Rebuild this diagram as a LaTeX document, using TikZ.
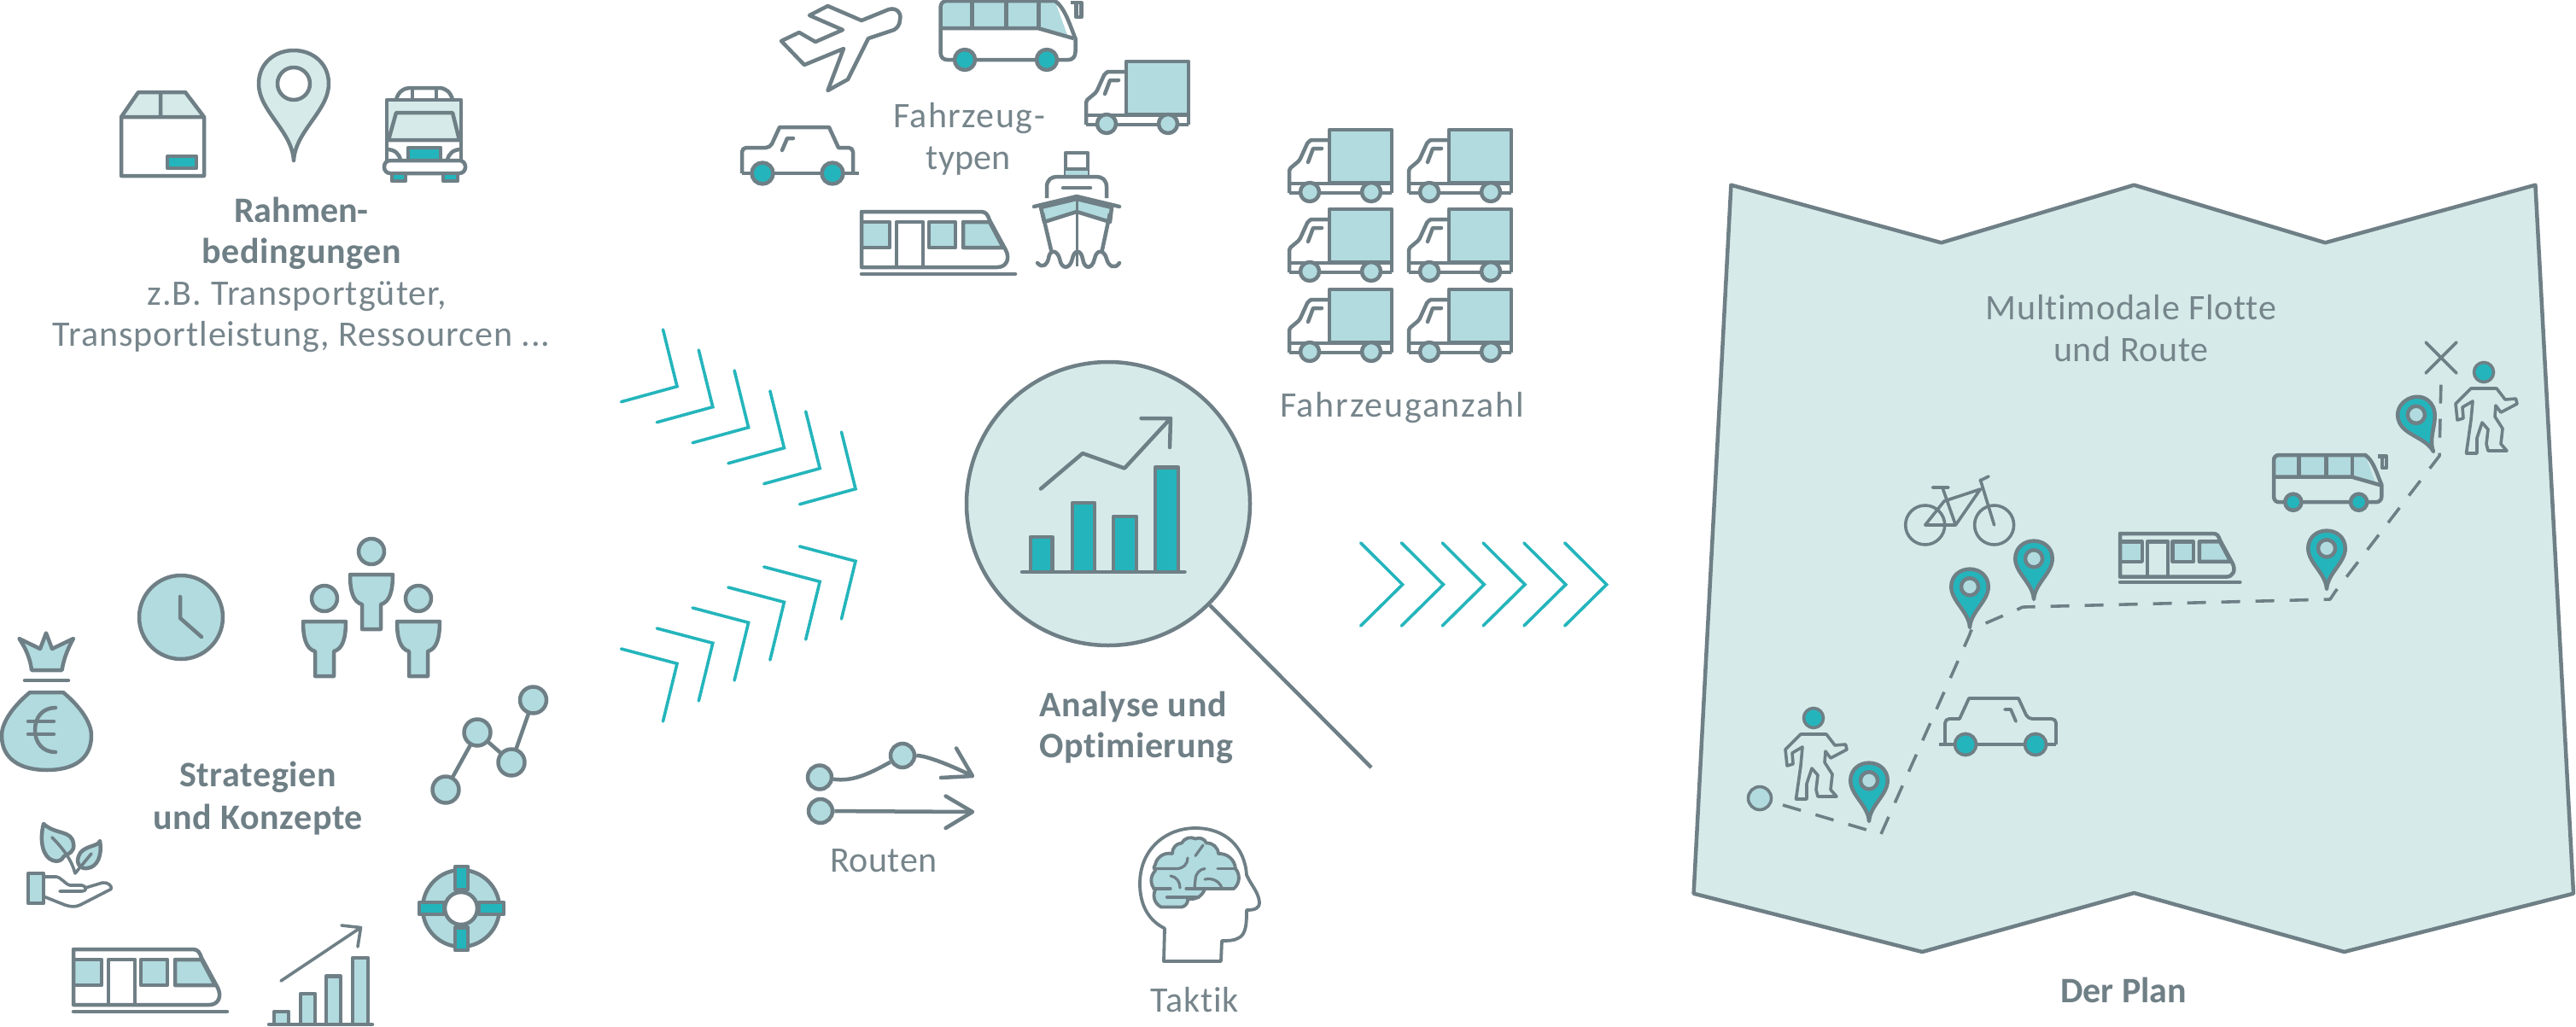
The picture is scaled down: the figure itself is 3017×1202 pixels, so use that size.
\documentclass[tikz,border=0pt]{standalone}
\usepackage{fontspec}
\setmainfont{Carlito}[Ligatures=NoCommon]
\newcommand\lsp[1]{\addfontfeatures{LetterSpace=#1}}
\definecolor{gry}{HTML}{6F7F86}
\definecolor{txt}{HTML}{76858B}
\definecolor{mint}{HTML}{D6EBE9}
\definecolor{lteal}{HTML}{B1DBDF}
\definecolor{teal2}{HTML}{24B5BC}
\newcommand\icTruck[2]{\begin{scope}[shift={(#1,#2)}]
 \draw[ln,fill=lteal] (47,0) rectangle (120,62);
 \draw[ln] (47,12) -- (26,12) [rounded corners=2] -- (22,14) -- (12,36) -- (0,46) -- (0,74);
 \draw[ln] (0,63) -- (120,63) -- (120,74);
 \draw[ln] (0,74) -- (120,74);
 \draw[ln,line cap=round] (38,22) -- (28,22) -- (22,38);
 \draw[ln,fill=lteal] (24,73) circle (11);
 \draw[ln,fill=lteal] (96,73) circle (11);
\end{scope}}
\newcommand\icCar[3]{\begin{scope}[shift={(#1,#2)},xscale=#3]
 \draw[#3ln] (0,54) [rounded corners=5] -- (0,24) -- (33,24) [sharp corners] -- (44,0) -- (102,0) -- (113,24) [rounded corners=5] -- (130,24) -- (130,54);
 \draw[#3ln] (0,54) -- (137,54);
 \draw[#3ln,line cap=round] (60,13) -- (53,13) -- (47,27);
 \draw[#3ln,fill=teal2] (24,54) circle (12.5);
 \draw[#3ln,fill=teal2] (106,54) circle (12.5);
\end{scope}}
\newcommand\icBus[3]{\begin{scope}[shift={(#1,#2)},scale=#3]
 \fill[lteal] (0,32) -- (0,8) -- (8,0) -- (134,0) -- (150,44) -- (114,32) -- cycle;
 \draw[ln] (8,0) -- (134,0) .. controls (146,8) and (152,30) .. (158,44) -- (158,60) .. controls (158,66) and (154,69) .. (150,69) -- (8,69) .. controls (3,69) and (0,66) .. (0,60) -- (0,8) .. controls (0,3) and (3,0) .. (8,0) -- cycle;
 \draw[ln] (0,32) -- (114,32) -- (156,44);
 \draw[ln] (37,0) -- (37,32) (77,0) -- (77,32) (115,0) -- (115,32);
 \draw[ln] (152,2) -- (165,2) -- (165,19) -- (159,19) -- (159,4);
 \draw[ln,fill=teal2] (28.5,69) circle (12);
 \draw[ln,fill=teal2] (124.5,69) circle (12);
\end{scope}}
\newcommand\icTrain[3]{\begin{scope}[shift={(#1,#2)},scale=#3]
 \draw[ln,fill=lteal] (0,12) rectangle (33,42);
 \draw[ln,fill=lteal] (79,12) rectangle (110,42);
 \draw[ln,fill=lteal] (119,12) -- (150,12) -- (166,42) -- (119,42) -- cycle;
 \draw[ln] (0,0) -- (140,0) .. controls (146,0) and (148,4) .. (150,10) -- (169,45) .. controls (174,55) and (170,65) .. (159,65) -- (0,65) -- cycle;
 \draw[ln] (41,65) -- (41,12) -- (72,12) -- (72,65);
 \draw[ln,line cap=round] (0,73) -- (180,73);
\end{scope}}
\newcommand\icPin[6]{\begin{scope}[shift={(#1,#2)},rotate=#4,scale=#3]
 \draw[ln,fill=#5] (0,0) .. controls (-2,-35) and (-41,-58) .. (-41,-90) .. controls (-41,-114) and (-22,-129) .. (0,-129) .. controls (22,-129) and (41,-114) .. (41,-90) .. controls (41,-58) and (2,-35) .. (0,0) -- cycle;
 \draw[ln,fill=#6] (0,-90) circle (19);
\end{scope}}
\newcommand\icPerson[2]{\begin{scope}[shift={(#1,#2)}]
 \draw[sln,fill=teal2] (0,0) circle (11.5);
 \draw[sln,line join=round] (-15,19) -- (15,19) -- (25,32) -- (37.5,31) -- (39,37) -- (20,47) -- (14,39) -- (13,52) -- (22,66) -- (20,84) -- (27,92) -- (5,92) -- (3,84) -- (5,67) -- (-2,59) -- (-8,77) -- (-8,95) -- (-20.5,95) -- (-15,56) -- (-13,34) -- (-25,41) -- (-24,54) -- (-31,56) -- (-33,37) -- cycle;
\end{scope}}
\newcommand\icMan[2]{\begin{scope}[shift={(#1,#2)}]
 \draw[ln,fill=lteal] (0,0) circle (15);
 \draw[ln,fill=lteal,line join=round] (-25,27) -- (25,27) .. controls (25,45) and (22,59) .. (11,62) -- (11,91) -- (-11,91) -- (-11,62) .. controls (-22,59) and (-25,45) .. (-25,27) -- cycle;
\end{scope}}
\tikzset{
 ln/.style={draw=gry,line width=4.5,line join=round},
 1ln/.style={ln},
 -1ln/.style={ln,line width=3.8},
 sln/.style={draw=gry,line width=3.6,line join=round},
 chev/.style={draw=teal2,line width=3.6,line cap=round},
 lbl/.style={anchor=base,inner sep=0,text=txt,font=\fontsize{42}{42}\selectfont},
 blbl/.style={anchor=base,inner sep=0,text=gry,font=\fontsize{42}{42}\selectfont\bfseries},
 rnode/.style={circle,draw=gry,line width=4.5,fill=lteal,minimum size=28,inner sep=0},
 lens/.style={circle,draw=gry,line width=4.5,fill=mint,minimum size=332,inner sep=0}
}
\begin{document}
\begin{tikzpicture}[x=1pt,y=-1pt]
\useasboundingbox (0,0) rectangle (3017,1202);
\fill[white] (0,0) rectangle (3017,1202);
% ---- Rahmenbedingungen
\fill[mint] (142,137) -- (162,108) -- (217,108) -- (239,137) -- cycle;
\draw[ln] (142,137) -- (162,108) -- (217,108) -- (239,137) -- (239,206) -- (142,206) -- cycle (142,137) -- (239,137) (188,108) -- (188,137);
\draw[ln,fill=teal2] (196,183) rectangle (230,197);
\icPin{344}{188}{1}{0}{mint}{white}
\fill[mint] (453,164) rectangle (540,117);
\draw[ln] (453,117) rectangle (540,188);
\draw[ln] (464,117) .. controls (466,107) and (474,103) .. (480,103) -- (514,103) .. controls (522,103) and (528,108) .. (530,117);
\draw[ln] (483,103) -- (483,117) (511,103) -- (511,117);
\draw[ln,fill=mint] (464,132) -- (530,132) -- (538,164) -- (455,164) -- cycle;
\draw[ln] (453,164) -- (540,164);
\draw[ln,fill=teal2] (478,173) rectangle (516,188);
\draw[ln] (453,175) .. controls (462,175) and (468,180) .. (469,188) (540,175) .. controls (531,175) and (525,180) .. (524,188);
\draw[ln,fill=white,rounded corners=7] (450,188) rectangle (545,203);
\draw[ln,fill=teal2] (459,203) rectangle (475,212);
\draw[ln,fill=teal2] (519,203) rectangle (536,212);
\node[blbl] (t1) at (353,260) {Rahmen-};
\node[blbl] (t2) at (353,308) {\lsp{1.6}bedingungen};
\node[lbl] (t3) at (348,357) {\lsp{2.6}z.B. Transportgüter,};
\node[lbl] (t4) at (353,405) {\lsp{2.3}Transportleistung, Ressourcen ...};
% ---- Fahrzeugtypen
\draw[ln] (948,18) -- (969.5,7) -- (1009,24) -- (1041,11) .. controls (1052,8) and (1056,18) .. (1054,23) .. controls (1054,30) and (1050,33) .. (1047,35) -- (1017,45) -- (993,93) -- (969.5,106) -- (988,57) -- (942,76) -- (915,48) -- (936,38) -- (955,49) -- (987,35) -- cycle;
\icBus{1101.5}{1}{1}
\icTruck{1272}{72}
\icCar{869}{149}{1}
\icTrain{1009}{248}{1}
% ship
\draw[ln] (1248,179) rectangle (1274,207);
\fill[lteal] (1248,198) rectangle (1274,207);
\draw[ln] (1248,198) -- (1274,198);
\draw[ln] (1226,232) -- (1226,219) .. controls (1226,211) and (1231,207) .. (1238,207) -- (1284,207) .. controls (1291,207) and (1296,211) .. (1296,219) -- (1296,232);
\draw[ln,line cap=round] (1245,220) -- (1277,220);
\draw[ln,fill=lteal] (1219,243) -- (1261,233) -- (1302,243) -- (1300,260) -- (1261,248) -- (1223,260) -- cycle;
\draw[ln,line cap=round] (1211,242) -- (1261,230) -- (1311,242);
\draw[ln] (1221,250) -- (1232,297) (1300,250) -- (1290,297);
\draw[ln,line width=3] (1261,233) -- (1261,312);
\draw[ln,line cap=round] (1215,308) .. controls (1222,316) and (1227,308) .. (1228,303) .. controls (1229,292) and (1238,292) .. (1241,303) .. controls (1243,316) and (1253,316) .. (1256,303) .. controls (1258,292) and (1266,292) .. (1268,303) .. controls (1270,316) and (1279,316) .. (1282,303) .. controls (1284,292) and (1293,292) .. (1296,303) .. controls (1298,312) and (1306,316) .. (1311,308);
\node[lbl] (t5) at (1135,149) {\lsp{3.5}Fahrzeug-};
\node[lbl] (t6) at (1134,198) {typen};
% ---- Fahrzeuganzahl
\icTruck{1510}{152}\icTruck{1650}{152}
\icTruck{1510}{245}\icTruck{1650}{245}
\icTruck{1510}{339}\icTruck{1650}{339}
\node[lbl] (t7) at (1642,488) {\lsp{4.3}Fahrzeuganzahl};
% ---- chevrons
\foreach \i in {0,...,5}{
 \begin{scope}[shift={(41.8*\i,24*\i)}]
  \draw[chev] (727.5,470.7) -- (793,452.7) -- (776.5,386);
 \end{scope}
 \begin{scope}[shift={(41.8*\i,-24*\i)}]
  \draw[chev] (727.5,760) -- (793,777.3) -- (776.5,845);
 \end{scope}
 \begin{scope}[shift={(47.8*\i,0)}]
  \draw[chev] (1593.7,636) -- (1642.6,684.7) -- (1593.7,733);
 \end{scope}
}
% ---- Strategien
\draw[ln,fill=lteal] (212,723) circle (49);
\draw[ln,line cap=round] (211,699) -- (211,724) -- (236,746);
\icMan{435}{646}\icMan{380}{701}\icMan{490}{701}
\draw[ln,fill=lteal] (22.4,748) -- (47,760) -- (54,741.5) -- (61,760) -- (86,748) .. controls (78,762) and (74,775) .. (72.6,785) -- (37,785) .. controls (36,775) and (32,762) .. (22.4,748) -- cycle;
\draw[ln,line cap=round] (29,797) -- (80,797);
\draw[ln,fill=lteal] (35,811) -- (74,811) .. controls (92,826) and (107,845) .. (107,861.5) .. controls (107,890) and (85,902) .. (55,902) .. controls (25,902) and (2,890) .. (2,861.5) .. controls (2,845) and (17,826) .. (35,811) -- cycle;
\draw[ln,line cap=round] (65,829) .. controls (50,829) and (41,840) .. (41,855) .. controls (41,870) and (50,881) .. (65,881);
\draw[ln,line cap=round] (33,845) -- (63,845) (33,860) -- (63,860);
\draw[ln] (522,925) -- (559,858) -- (599,893) -- (624.5,820);
\foreach \p in {(522,925),(559,858),(599,893),(624.5,820)} \draw[ln,fill=lteal] \p circle (15.5);
\draw[ln,fill=lteal] (51,965) .. controls (65,978) and (84,972) .. (86,988) .. controls (88,998) and (80,1000) .. (75,1003) .. controls (72,1008) and (68,1010) .. (62,1008) .. controls (50,1004) and (46,985) .. (51,965) -- cycle;
\draw[ln,fill=lteal] (117,985) .. controls (116,992) and (96,990) .. (92,1003) .. controls (89,1012) and (94,1018) .. (102,1017) .. controls (114,1016) and (120,1002) .. (117,985) -- cycle;
\draw[ln,line width=3.6,line cap=round] (61,981) .. controls (75,995) and (84,1008) .. (88,1023) -- (107,1000);
\draw[ln,fill=lteal] (33,1023) rectangle (51,1058);
\draw[ln,line width=3.6,line cap=round] (51,1027) -- (66,1027) .. controls (72,1028) and (78,1037) .. (82,1037) -- (96,1037) .. controls (102,1038) and (102,1044) .. (96,1044) -- (70,1044);
\draw[ln,line width=3.6,line cap=round] (100,1040) -- (120,1034) .. controls (126,1033) and (132,1038) .. (130,1041.5) -- (94,1060) .. controls (88,1063) and (82,1062) .. (76,1060) -- (51,1050);
\draw[ln,fill=lteal,even odd rule] (540,1064) circle (45);
\draw[ln,fill=white] (540,1064) circle (19);
\draw[ln,fill=teal2] (533,1015) rectangle (548,1042);
\draw[ln,fill=teal2] (533,1086.5) rectangle (548,1113);
\draw[ln,fill=teal2] (491,1057) rectangle (520,1071);
\draw[ln,fill=teal2] (561,1057) rectangle (590,1071);
\icTrain{86}{1112}{1}
\draw[ln,fill=lteal] (321,1200) -- (321,1185) -- (338,1185) -- (338,1200);
\draw[ln,fill=lteal] (352,1200) -- (352,1164) -- (369,1164) -- (369,1200);
\draw[ln,fill=lteal] (382,1200) -- (382,1143.5) -- (399,1143.5) -- (399,1200);
\draw[ln,fill=lteal] (413,1200) -- (413,1122) -- (431,1122) -- (431,1200);
\draw[ln,line cap=round] (315,1200) -- (436,1200);
\draw[ln,line width=3.6,line cap=round] (329,1149) -- (422.5,1086.5) (400,1084) -- (422.5,1086.5) -- (419,1109);
\node[blbl] (t8) at (302,921) {\lsp{1.6}Strategien};
\node[blbl] (t9) at (302,971) {\lsp{1.6}und Konzepte};
% ---- Lens
\coordinate (hend) at (1606,899);
\node[lens] (lenscircle) at (1298,590) {};
\draw[ln] (lenscircle.-45) -- (hend);
\foreach \a/\b/\c in {1207/1232.6/629,1256/1282/589,1304/1331/605,1353/1380/547.5}
 \draw[ln,fill=teal2] (\a,670) -- (\a,\c) -- (\b,\c) -- (\b,670);
\draw[ln,line cap=round] (1197,670) -- (1387.5,670);
\draw[ln,line cap=round] (1219,572.5) -- (1268,531) -- (1317,548.5) -- (1371,490) (1336.6,490) -- (1371,490) -- (1370,524);
\node[blbl] (t10) at (1327,839) {\lsp{1.5}Analyse und};
\node[blbl] (t11) at (1331,887) {\lsp{1.5}Optimierung};
% ---- Routen
\node[rnode] (r1) at (960,910.5) {};
\node[rnode] (r2) at (1057,885) {};
\node[rnode] (r3) at (961,950) {};
\coordinate (a1) at (1139,909);
\coordinate (a2) at (1139,951);
\draw[ln] (r1) .. controls (1000,916) and (1020,905) .. (r2);
\draw[ln] (r2) .. controls (1085,885) and (1115,897) .. (a1);
\draw[ln,line cap=round] (1120,876.5) -- (a1) -- (1102,911);
\draw[ln] (r3) -- (a2);
\draw[ln,line cap=round] (1107.6,932.5) -- (a2) -- (1107.6,970);
\node[lbl] (t12) at (1035,1021.5) {\lsp{1}Routen};
% ---- Taktik
\draw[ln,line width=3.8] (1364,1087.5) .. controls (1345,1078) and (1335,1060) .. (1335,1035) .. controls (1335,995) and (1365,970) .. (1400,970) .. controls (1435,970) and (1458,992) .. (1460,1025) .. controls (1466,1038) and (1474,1045) .. (1475,1057) .. controls (1475,1064) and (1470,1066) .. (1460,1066) .. controls (1460,1080) and (1460,1095) .. (1450,1099) .. controls (1445,1102) and (1438,1102) .. (1431,1102) -- (1430,1126) -- (1363,1126) -- cycle;
\draw[ln,line width=3.8,fill=lteal] (1353,1012.5) to[bend left=45] (1373,1000) to[bend left=45] (1384,987.5) to[bend left=45] (1400,982.5) to[bend left=45] (1413,987.5) to[bend left=45] (1427,1000) to[bend left=45] (1447,1017.5) to[bend left=45] (1445,1041) -- (1411,1041) to[bend left=45] (1391,1052.5) to[bend left=45] (1384,1062.5) -- (1360,1062.5) to[bend left=45] (1353,1042.5) to[bend left=45] (1353,1020) to[bend left=45] cycle;
\draw[ln,line width=3.2,line cap=round] (1353,1017.5) -- (1378,1017.5) .. controls (1386,1017.5) and (1391,1012) .. (1391,1005);
\draw[ln,line width=3.2,line cap=round] (1400,1002.5) -- (1409,990);
\draw[ln,line width=3.2,line cap=round] (1426,1017.5) -- (1447,1017.5);
\draw[ln,line width=3.2,line cap=round] (1399,1040) -- (1400,1030) .. controls (1400,1024) and (1405,1018) .. (1411,1017.5);
\draw[ln,line width=3.2,line cap=round] (1411,1030) .. controls (1420,1028) and (1428,1032) .. (1431,1040);
\draw[ln,line width=3.2,line cap=round] (1371,1026) .. controls (1378,1027) and (1382,1033) .. (1382,1040);
\draw[ln,line width=3.2,line cap=round] (1351,1041) -- (1371,1041) (1389,1041) -- (1411,1041) (1366.5,1051) -- (1404,1051);
\node[lbl] (t13) at (1399,1185) {\lsp{2}Taktik};
% ---- Map
\draw[ln,fill=mint] (2027.4,216.7) -- (2273.6,284.3) -- (2499.4,216.7) -- (2723.3,284.3) -- (2969.4,216.7) -- (3014,1046.7) -- (2745.5,1115) -- (2499.4,1046) -- (2251.3,1115) -- (1983.6,1046.7) -- cycle;
\node[lbl] (t14) at (2496,374) {\lsp{1.8}Multimodale Flotte};
\node[lbl] (t15) at (2496,423) {\lsp{1.8}und Route};
\node[blbl] (t16) at (2487,1174) {Der Plan};
% route
\node[circle,draw=gry,line width=3.6,fill=lteal,minimum size=27,inner sep=0] (start) at (2061,935) {};
\coordinate (rstart) at (2088,943);
\coordinate (goal) at (2859,443);
\draw[sln,dash pattern=on 22 off 18] (rstart) -- (2203,977) -- (2307,743) .. controls (2308,738) and (2310,736) .. (2314,735) -- (2365,713) .. controls (2368,711) and (2370,711) .. (2371,711) -- (2729,702) -- (2735,693) -- (2857,534) -- (goal);
\draw[sln,line cap=round] (2841,401) -- (2877,437) (2877,401) -- (2841,437);
\icPin{2307}{735}{.53}{0}{teal2}{lteal}
\icPin{2382}{702}{.53}{0}{teal2}{lteal}
\icPin{2725}{690}{.53}{0}{teal2}{lteal}
\icPin{2850}{529}{.53}{25}{teal2}{lteal}
\icPin{2189}{962}{.53}{0}{teal2}{lteal}
\icPerson{2909}{436}
\icPerson{2124}{841}
\icCar{2408}{818}{-1}
\icTrain{2483}{625}{.78}
\icBus{2663}{533}{.8}
% bicycle
\draw[sln] (2254.7,615) circle (23) (2335.6,615) circle (23);
\draw[sln,line cap=round] (2254.7,615) -- (2290.4,615) -- (2275.6,573) (2254.7,615) -- (2277,587) -- (2319.4,573) -- (2290.4,615) (2319.4,562) -- (2335.6,615) (2319,563) -- (2329,558) (2263.5,571) -- (2282,571);
\end{tikzpicture}
\end{document}
